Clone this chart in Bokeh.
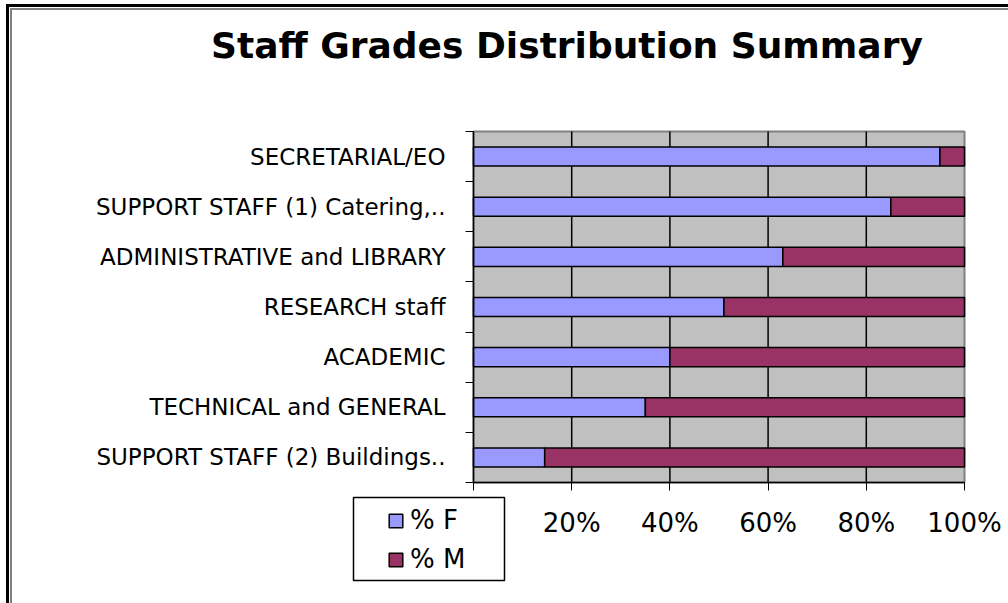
from bokeh.plotting import figure
from bokeh.models import (Range1d, FixedTicker, ColumnDataSource, Legend, LegendItem, Label,
                          BoxAnnotation)
from bokeh.embed import file_html
from bokeh.resources import INLINE

# ---- data ----
categories = ["SECRETARIAL/EO", "SUPPORT STAFF (1) Catering,..", "ADMINISTRATIVE and LIBRARY",
              "RESEARCH staff", "ACADEMIC", "TECHNICAL and GENERAL", "SUPPORT STAFF (2) Buildings.."]
pct_f = [95, 85, 63, 51, 40, 35, 14.5]
pct_m = [5, 15, 37, 49, 60, 65, 85.5]
series_keys = ["F", "M"]
series_names = ["% F", "% M"]
series_colors = ["#9999FF", "#993366"]
x_ticks = [0, 20, 40, 60, 80, 100]
x_tick_labels = ["0%", "20%", "40%", "60%", "80%", "100%"]
title_text = "Staff Grades Distribution Summary"

n = len(categories)
ypos = [n - 0.5 - i for i in range(n)]
bounds = list(range(n + 1))

# ---- layout (pixels of the 1008x603 canvas) ----
W, H = 1008, 603
PL, PR, PT, PB = 473, 964, 131, 482          # plot-area edges
xs = (x_ticks[-1] - x_ticks[0]) / (PR - PL)  # data per px
ys = n / (PB - PT)


def dx(px):
    return x_ticks[0] + (px - PL) * xs


def dy(py):
    return (PB - py) * ys


source = ColumnDataSource(dict(y=ypos, F=pct_f, M=pct_m, cat=categories))

p = figure(width=W, height=H, x_range=Range1d(dx(0), dx(W)), y_range=Range1d(dy(H), dy(0)),
           output_backend="svg", toolbar_location=None,
           min_border_left=0, min_border_right=0, min_border_top=0, min_border_bottom=0,
           background_fill_alpha=0, border_fill_alpha=0)
p.title = None
p.outline_line_color = None
p.grid.visible = False
p.styles = {"box-shadow": "inset 6px 4px 0 0 #fff, inset 9px 7px 0 0 #000, "
                          "inset 10px 8px 0 0 #fff, inset 12px 10px 0 0 #808080",
            "background-color": "white"}

# plot area
p.quad(left=x_ticks[0], right=x_ticks[-1], bottom=0, top=n,
       fill_color="#C0C0C0", line_color="#808080", line_width=2)
inner = x_ticks[1:-1]
p.segment(x0=inner, y0=[0] * len(inner), x1=inner, y1=[n] * len(inner),
          line_color="black", line_width=1.5)

renderers = p.hbar_stack(series_keys, y="y", height=0.38, source=source,
                         fill_color=series_colors, line_color="black", line_width=1.5)

# x axis
xa = p.xaxis[0]
xa.fixed_location = 0
xa.bounds = (x_ticks[0], x_ticks[-1])
xa.ticker = FixedTicker(ticks=x_ticks)
xa.major_label_overrides = {t: lab for t, lab in zip(x_ticks, x_tick_labels)}
xa.major_tick_out = 8
xa.major_tick_in = 0
xa.minor_tick_out = 0
xa.major_tick_line_color = "black"
xa.axis_line_color = "black"
xa.axis_line_width = 1.5
xa.major_label_standoff = 17
xa.major_label_text_font = "DejaVu Sans"
xa.major_label_text_font_size = "26px"
xa.major_label_text_color = "black"

# y axis
ya = p.yaxis[0]
ya.fixed_location = x_ticks[0]
ya.bounds = (0, n)
ya.ticker = FixedTicker(ticks=ypos, minor_ticks=bounds)
ya.major_label_overrides = {y: c for y, c in zip(ypos, categories)}
ya.major_tick_out = 0
ya.major_tick_in = 0
ya.minor_tick_out = 8
ya.minor_tick_in = 0
ya.minor_tick_line_color = "black"
ya.axis_line_color = "black"
ya.axis_line_width = 1.5
ya.major_label_standoff = 20
ya.major_label_text_font = "DejaVu Sans"
ya.major_label_text_font_size = "23px"
ya.major_label_text_color = "black"

# title
p.add_layout(Label(x=dx(566.5), y=dy(45), text=title_text, text_align="center",
                   text_baseline="alphabetic", text_font="DejaVu Sans", text_font_style="bold",
                   text_font_size="36px", text_color="black"))

# legend box + legend
p.add_layout(BoxAnnotation(left=dx(353), right=dx(504), top=dy(497), bottom=dy(580),
                           fill_color="white", fill_alpha=1, line_color="black",
                           line_alpha=1, line_width=1.5))
legend = Legend(items=[LegendItem(label=nm, renderers=[r]) for nm, r in zip(series_names, renderers)],
                location=(387, H - 574), padding=0, spacing=9, glyph_width=17, glyph_height=17,
                label_standoff=6, label_text_font="DejaVu Sans", label_text_font_size="26px",
                label_text_color="black",
                border_line_alpha=0, background_fill_alpha=0, margin=0)
p.add_layout(legend)

open("out.html", "w").write(file_html(p, INLINE))
